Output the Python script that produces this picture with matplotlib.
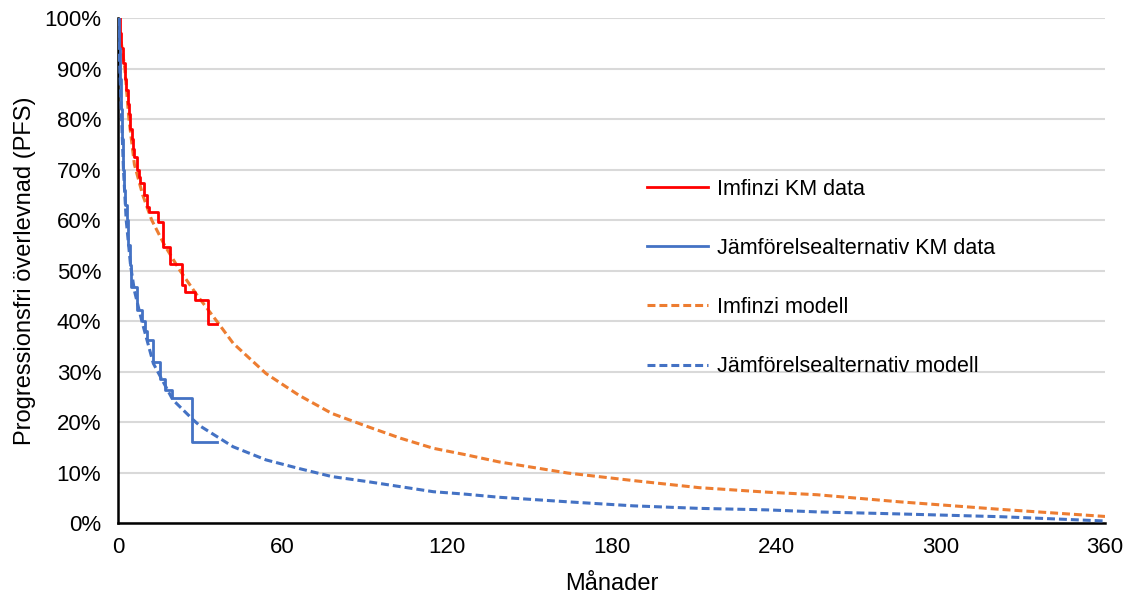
import matplotlib.pyplot as plt
from matplotlib.ticker import PercentFormatter

plt.rcParams['font.family'] = ['Liberation Sans', 'DejaVu Sans']

# KM data (months, PFS %): time of each drop and the level after it
imf_km_t = [0, 0.6, 1.2, 1.8, 2.4, 3, 3.5, 4, 4.5, 5, 5.5, 6, 6.8, 7.5, 8.2, 9.5, 10.5, 11.4, 14.6, 16.5,
            19, 23.2, 24.4, 28, 33, 36]
imf_km_s = [100, 97, 94, 91, 88, 85.7, 83, 81, 78, 76, 74, 72.5, 70, 68.5, 67.3, 65, 62.5, 61.6, 59.7, 54.7,
            51.2, 47.1, 45.8, 44.2, 39.5, 39.5]

jmf_km_t = [0, 0.4, 0.8, 1.2, 1.6, 1.9, 2.3, 2.7, 3.2, 3.8, 4.3, 4.9, 6.8, 8.6, 9.8, 10.5, 12.9, 15.3, 17.1,
            19.6, 26.9, 36]
jmf_km_s = [100, 94, 88, 82, 76, 70, 66, 63, 60, 55, 51, 46.8, 42.2, 40, 38, 36.2, 31.9, 28.6, 26.3,
            24.7, 16.1, 16.1]

# extrapolated models
imf_mod_t = [0, 1, 2.5, 4, 6, 9, 12.3, 17, 22.6, 29, 36, 42, 54, 66, 78, 91, 103, 115, 127, 139, 164, 188,
             212, 237, 255, 285, 322, 360]
imf_mod_s = [100, 96, 90, 80, 71, 65, 60, 55, 50, 45, 40, 35.6, 29.6, 25.3, 21.7, 19.1, 16.8, 14.8, 13.5,
             12.1, 9.9, 8.4, 7.0, 6.1, 5.6, 4.2, 2.7, 1.3]

jmf_mod_t = [0, 1, 2, 3, 4.6, 6, 8.6, 12.9, 20, 27.5, 30, 42, 54, 66, 78, 91, 103, 115, 127, 139, 164, 188,
             212, 237, 255, 285, 322, 360]
jmf_mod_s = [100, 85, 70, 60, 51, 46, 40.2, 31.6, 24.4, 20.4, 19.2, 15.1, 12.5, 10.8, 9.2, 8.2, 7.2, 6.2,
             5.7, 5.1, 4.2, 3.4, 2.9, 2.6, 2.2, 1.8, 1.25, 0.4]

fig = plt.figure(figsize=(11.31, 5.94), dpi=100)
ax = fig.add_axes([0.1043, 0.1195, 0.8727, 0.8502])

ax.step(imf_km_t, imf_km_s, where='post', color='#FF0000', lw=2, label='Imfinzi KM data', zorder=4)
ax.step(jmf_km_t, jmf_km_s, where='post', color='#4472C4', lw=2, label='Jämförelsealternativ KM data', zorder=4)
ax.plot(imf_mod_t, imf_mod_s, color='#ED7D31', lw=2.2, ls=(0, (2.6, 1.3)), label='Imfinzi modell', zorder=3)
ax.plot(jmf_mod_t, jmf_mod_s, color='#4472C4', lw=2.2, ls=(0, (2.6, 1.3)), label='Jämförelsealternativ modell', zorder=3)

ax.set_xlim(0, 360)
ax.set_ylim(0, 100)
ax.set_xticks(range(0, 361, 60))
ax.set_yticks(range(0, 101, 10))
ax.yaxis.set_major_formatter(PercentFormatter(decimals=0))
ax.grid(axis='y', color='#D9D9D9', lw=1.5)
ax.set_axisbelow(True)
for s in ['top', 'right']:
    ax.spines[s].set_visible(False)
ax.spines['left'].set_linewidth(1.8)
ax.spines['bottom'].set_linewidth(1.8)
ax.tick_params(length=0, labelsize=16)
ax.tick_params(axis='x', pad=10)
ax.tick_params(axis='y', pad=12)
ax.set_xlabel('Månader', fontsize=17, labelpad=11)
ax.set_ylabel('Progressionsfri överlevnad (PFS)', fontsize=17, labelpad=6)

ax.legend(loc='upper left', bbox_to_anchor=(0.516, 0.72), frameon=False, fontsize=15.5,
          handlelength=2.85, handletextpad=0.4, labelspacing=1.77)

fig.savefig('out.png', dpi=100)
